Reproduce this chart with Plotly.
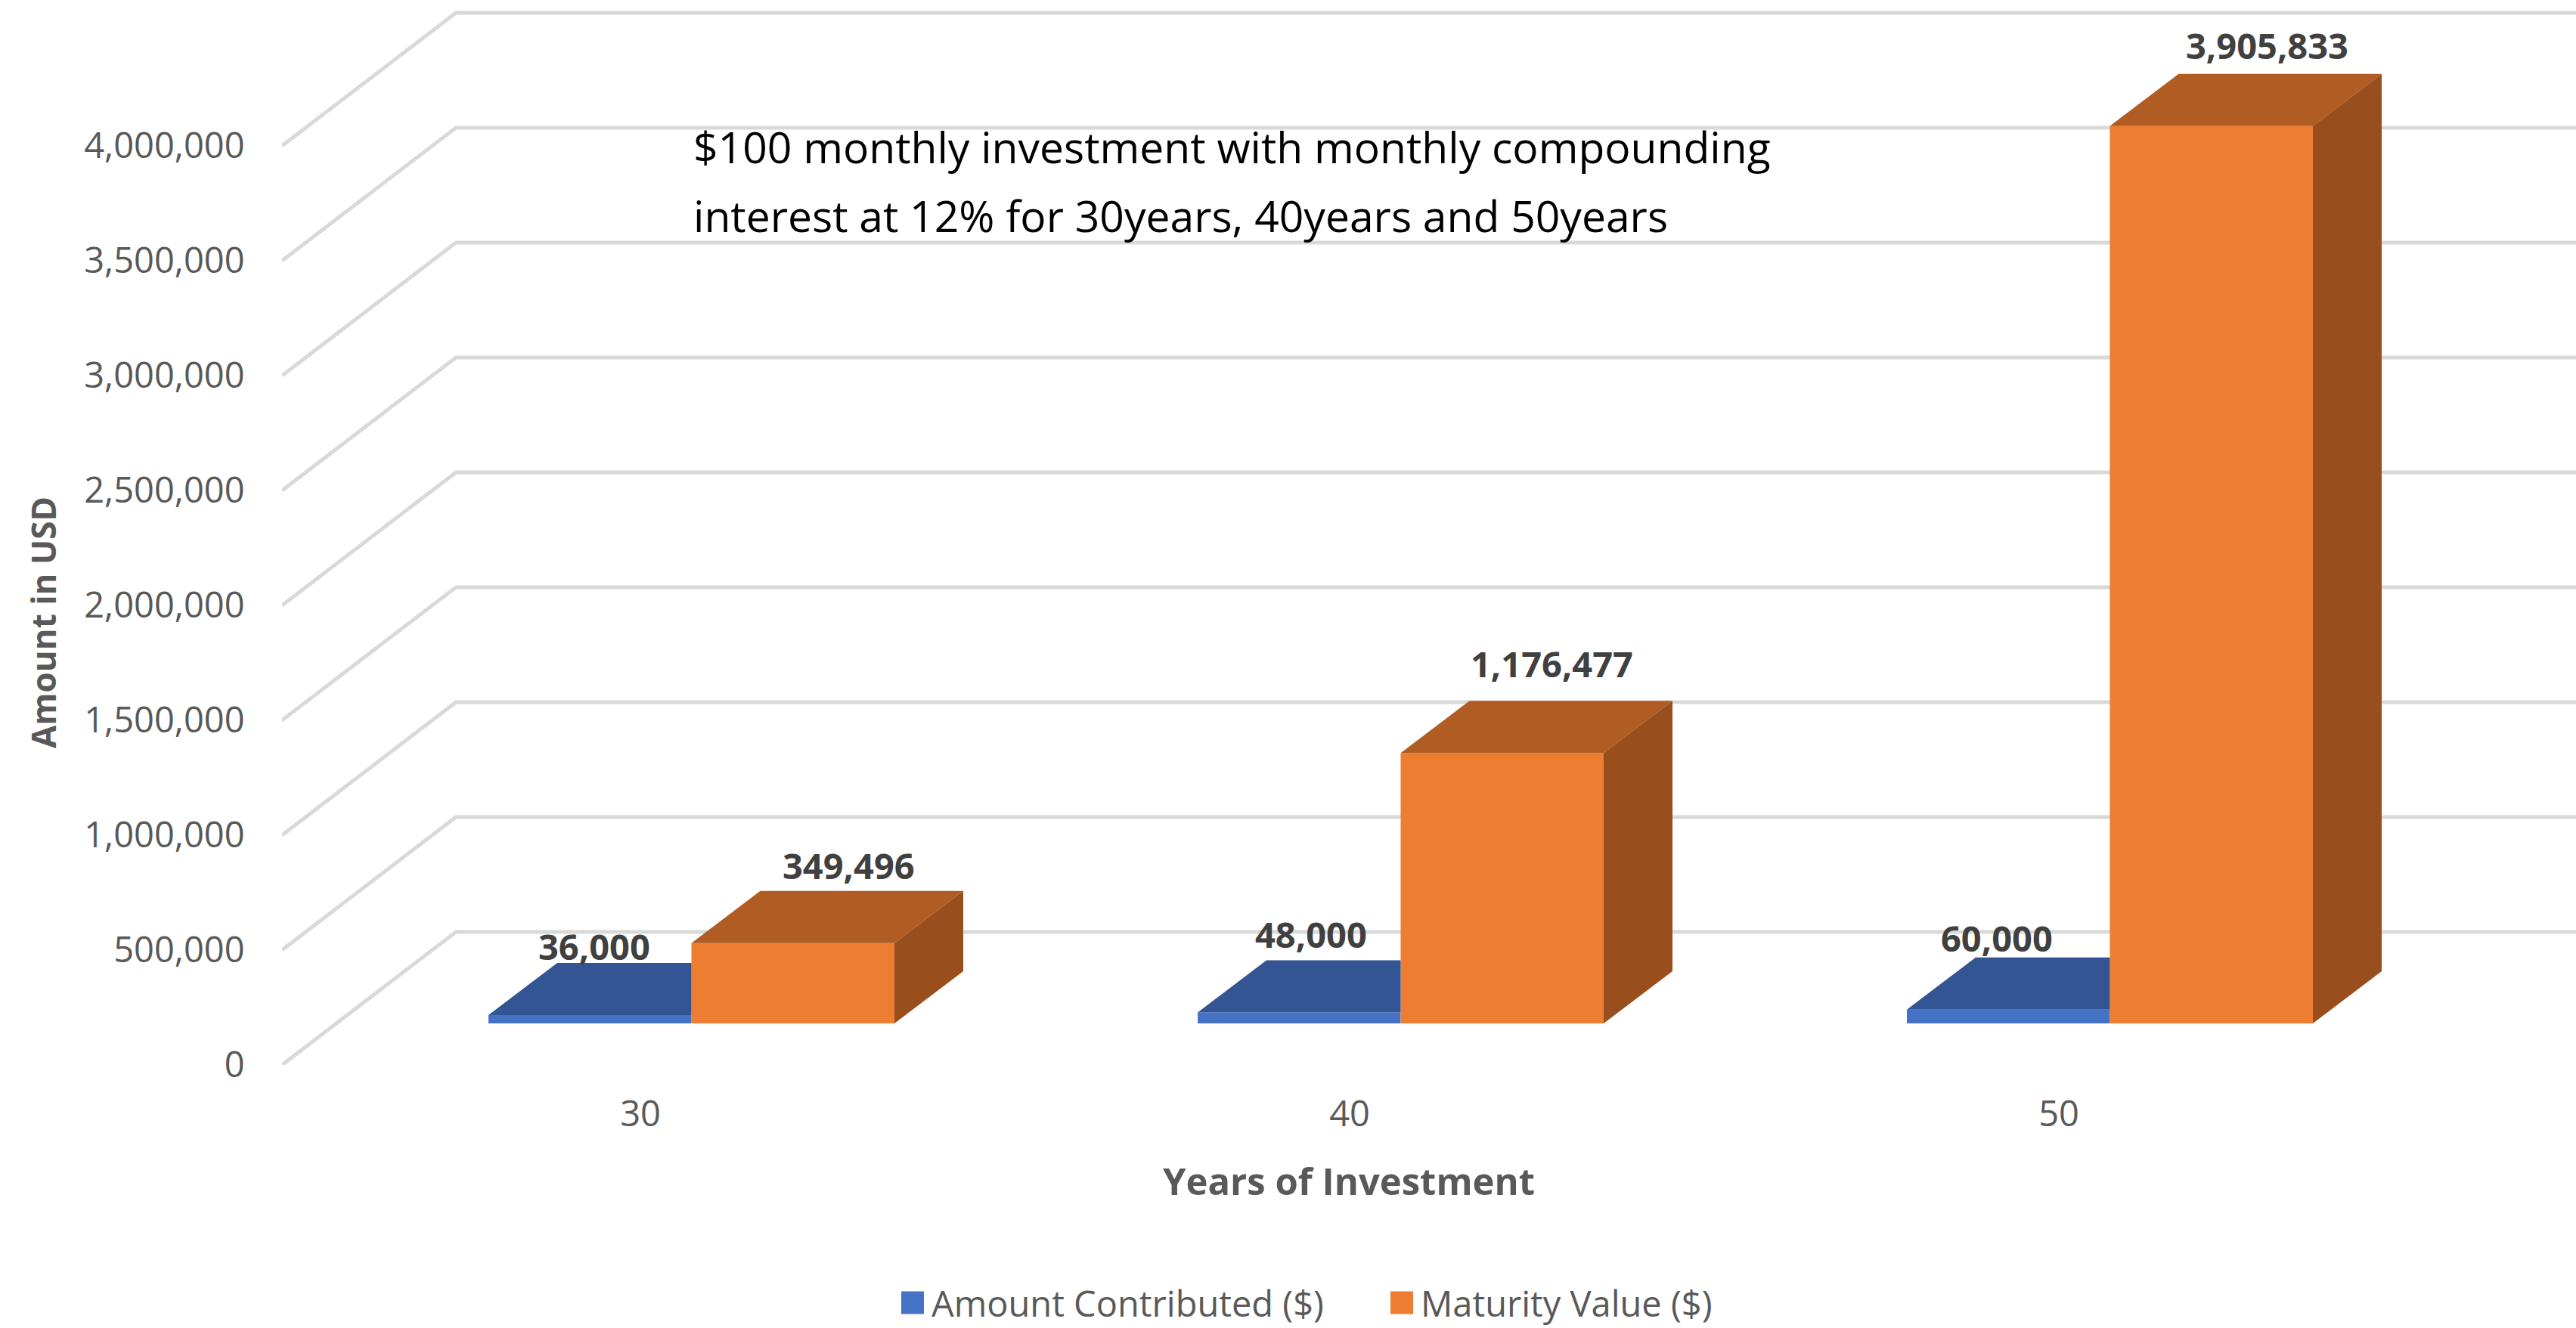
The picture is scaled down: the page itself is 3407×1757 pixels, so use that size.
import plotly.graph_objects as go

# ---- data ----
YEARS = [30, 40, 50]
CONTRIBUTED = [36000, 48000, 60000]
MATURITY = [349496, 1176477, 3905833]
Y_TICKS = [0, 500000, 1000000, 1500000, 2000000, 2500000, 3000000, 3500000, 4000000]
SERIES_NAMES = ["Amount Contributed ($)", "Maturity Value ($)"]
X_TITLE = "Years of Investment"
Y_TITLE = "Amount in USD"
NOTE_LINES = ["$100 monthly investment with monthly compounding",
              "interest at 12% for 30years, 40years and 50years"]

# ---- style / geometry ----
W, H = 3407, 1757
ML, MB = 373, 348
PX_PER_YEAR = 93.8
PX_PER_UNIT = 152 / 500000
X_RANGE = [30 - (847 - ML) / PX_PER_YEAR, 30 + (W - 847) / PX_PER_YEAR]
Y_RANGE = [0, (H - MB) / PX_PER_UNIT]
WALL_DX, WALL_DY = 230 / PX_PER_YEAR, 176 / PX_PER_UNIT   # depth of the floor
BAR_DX, BAR_DY = 91 / PX_PER_YEAR, 69 / PX_PER_UNIT       # depth of one bar
BASE = 55 / PX_PER_UNIT                                   # floor offset of bars' front
SHIFT = 67.5 / PX_PER_YEAR                                # group offset of bars' front
BAR_W = 268.5 / PX_PER_YEAR

BLUE, BLUE_TOP = "#4472C4", "#335593"
ORANGE, ORANGE_TOP, ORANGE_SIDE = "#ED7D31", "#B15C22", "#994F1D"
GRID = "#D9D9D9"
TICK_COLOR, TITLE_COLOR, LABEL_COLOR = "#595959", "#595959", "#404040"
FONT = "Open Sans"
TICK_SIZE, LABEL_SIZE, NOTE_SIZE = 47, 47, 57
XTITLE_SIZE, YTITLE_SIZE = 49, 44


def px(x):
    return x / W


def py(y):
    return 1 - y / H


def poly(xs, ys, color):
    return go.Scatter(x=xs, y=ys, mode="lines", fill="toself", fillcolor=color,
                      line=dict(width=0, color=color), showlegend=False, hoverinfo="skip")


fig = go.Figure()

blue_x = [y + SHIFT - BAR_W / 2 for y in YEARS]
orange_x = [y + SHIFT + BAR_W / 2 for y in YEARS]

fig.add_trace(go.Bar(x=blue_x, y=CONTRIBUTED, base=BASE, width=BAR_W, name=SERIES_NAMES[0],
                     marker=dict(color=BLUE, line=dict(width=0)), hoverinfo="skip"))
fig.add_trace(go.Bar(x=orange_x, y=MATURITY, base=BASE, width=BAR_W, name=SERIES_NAMES[1],
                     marker=dict(color=ORANGE, line=dict(width=0)), hoverinfo="skip"))

for xc, v in zip(blue_x, CONTRIBUTED):
    l, r, t = xc - BAR_W / 2, xc + BAR_W / 2, BASE + v
    # the orange bar hides everything right of r, so the top face stops there
    fig.add_trace(poly([l, l + BAR_DX, r, r, l], [t, t + BAR_DY, t + BAR_DY, t, t], BLUE_TOP))

for xc, v in zip(orange_x, MATURITY):
    l, r, t = xc - BAR_W / 2, xc + BAR_W / 2, BASE + v
    fig.add_trace(poly([l, l + BAR_DX, r + BAR_DX, r, l],
                       [t, t + BAR_DY, t + BAR_DY, t, t], ORANGE_TOP))
    fig.add_trace(poly([r, r + BAR_DX, r + BAR_DX, r, r],
                       [t, t + BAR_DY, BASE + BAR_DY, BASE, t], ORANGE_SIDE))

# gridlines: diagonal on the side wall + horizontal on the back wall
shapes = []
for v in Y_TICKS:
    x0, x1, x2 = X_RANGE[0], X_RANGE[0] + WALL_DX, X_RANGE[1]
    y0, y1 = v, v + WALL_DY
    shapes.append(dict(type="path", xref="x", yref="y", layer="below",
                       path=f"M {x0},{y0} L {x1},{y1} L {x2},{y1}",
                       line=dict(color=GRID, width=5)))

# data labels: (dx, dy) are pixel nudges from the front-top of each bar
BLUE_NUDGE = [(6, 91), (16, 103), (-15, 95)]
ORANGE_NUDGE = [(74, 103), (66, 118), (74, 107)]
annotations = []
for xs, vals, nudges in ((blue_x, CONTRIBUTED, BLUE_NUDGE), (orange_x, MATURITY, ORANGE_NUDGE)):
    for xc, v, (dx, dy) in zip(xs, vals, nudges):
        annotations.append(dict(x=xc, y=BASE + v, xref="x", yref="y", text=f"{v:,}",
                                showarrow=False, xshift=dx, yshift=dy, xanchor="center", yanchor="middle",
                                font=dict(family=FONT, size=LABEL_SIZE, color=LABEL_COLOR, weight="bold")))

for line, y in zip(NOTE_LINES, (194, 285)):
    annotations.append(dict(x=px(915), y=py(y), xref="paper", yref="paper", text=line, showarrow=False,
                            xanchor="left", yanchor="middle",
                            font=dict(family=FONT, size=NOTE_SIZE, color="#000000")))
annotations.append(dict(x=px(1784), y=py(1562), xref="paper", yref="paper", text=X_TITLE, showarrow=False,
                        xanchor="center", yanchor="middle",
                        font=dict(family=FONT, size=XTITLE_SIZE, color=TITLE_COLOR, weight="bold")))
annotations.append(dict(x=px(57), y=py(824), xref="paper", yref="paper", text=Y_TITLE, showarrow=False,
                        textangle=-90, xanchor="center", yanchor="middle",
                        font=dict(family=FONT, size=YTITLE_SIZE, color=TITLE_COLOR, weight="bold")))

fig.update_layout(
    width=W, height=H, autosize=False,
    margin=dict(l=0, r=0, t=0, b=0, pad=0, autoexpand=False),
    plot_bgcolor="white", paper_bgcolor="white",
    barmode="overlay", hovermode=False,
    shapes=shapes, annotations=annotations,
    font=dict(family=FONT, color=TICK_COLOR),
    xaxis=dict(domain=[ML / W, 1], range=X_RANGE, tickvals=YEARS, ticktext=[str(y) for y in YEARS],
               showgrid=False, zeroline=False, showline=False, ticks="outside", ticklen=24,
               tickcolor="rgba(0,0,0,0)", tickfont=dict(family=FONT, size=TICK_SIZE, color=TICK_COLOR)),
    yaxis=dict(domain=[MB / H, 1], range=Y_RANGE, tickvals=Y_TICKS, tickformat=",",
               showgrid=False, zeroline=False, showline=False, ticks="outside", ticklen=39,
               tickcolor="rgba(0,0,0,0)", tickfont=dict(family=FONT, size=TICK_SIZE, color=TICK_COLOR)),
    legend=dict(orientation="h", x=px(1192), y=py(1724), xanchor="left", yanchor="middle",
                font=dict(family=FONT, size=TICK_SIZE, color=TICK_COLOR),
                entrywidth=602, entrywidthmode="pixels", itemwidth=30, traceorder="normal",
                bgcolor="rgba(0,0,0,0)"),
)

POST = """
document.body.style.margin = '0';
var st = document.createElement('style');
st.textContent = '.legend .legendpoints path { transform: translate(15px, 0px) scale(2.5); }';
document.head.appendChild(st);
"""
fig.write_html("out.html", post_script=POST, config=dict(displayModeBar=False))
